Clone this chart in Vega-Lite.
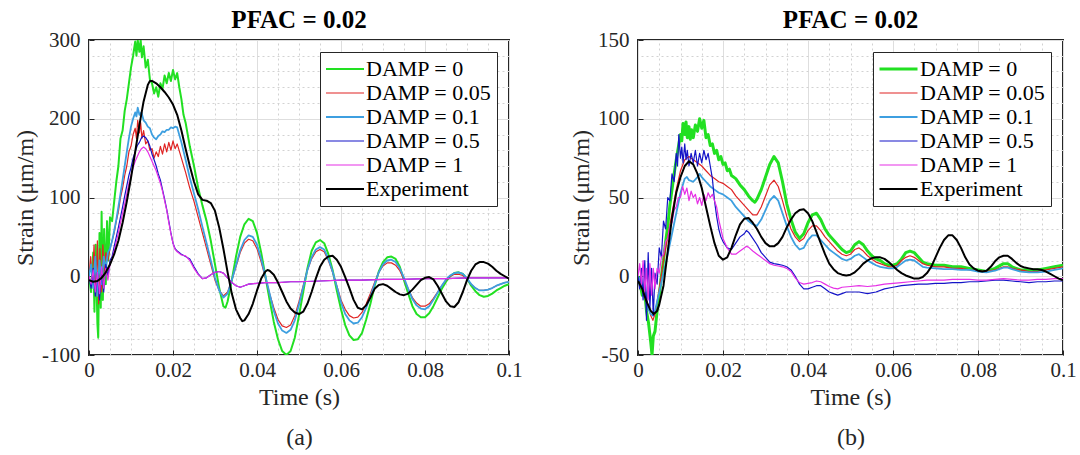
{
"$schema": "https://vega.github.io/schema/vega-lite/v6.json",
"background": "white",
"padding": {"left": 12, "top": 7, "right": 5, "bottom": 5},
"config": {
  "font": "Times New Roman, Liberation Serif, serif",
  "view": {"stroke": "#262626", "strokeWidth": 2},
  "axis": {"labelFont": "Times New Roman, Liberation Serif, serif", "labelFontSize": 21, "labelColor": "#262626", "titleFont": "Times New Roman, Liberation Serif, serif", "titleFontSize": 24, "titleFontWeight": "normal", "titleColor": "#262626", "gridColor": "#dedede", "gridWidth": 1, "domain": false, "tickColor": "#262626", "tickSize": -5, "labelPadding": 9, "labelFlush": false, "labelOverlap": false},
  "axisLeft": {"labelPadding": 14, "titlePadding": 4},
  "axisBottom": {"titlePadding": 5},
  "title": {"font": "Times New Roman, Liberation Serif, serif", "fontSize": 25, "fontWeight": "bold", "color": "#000000", "offset": -4, "anchor": "middle"},
  "legend": {"title": null, "orient": "top-right", "offset": 12, "symbolType": "stroke", "symbolSize": 1444, "symbolStrokeWidth": 2, "clipHeight": 24, "labelFont": "Times New Roman, Liberation Serif, serif", "labelFontSize": 22, "labelColor": "#000000", "strokeColor": "#262626", "fillColor": "#ffffff", "padding": 5, "rowPadding": 0, "labelOffset": 1}
},
"datasets": {
"a": [
{"s":"DAMP = 0","t":0,"v":0},{"s":"DAMP = 0","t":0.0005,"v":-20},{"s":"DAMP = 0","t":0.001,"v":30},{"s":"DAMP = 0","t":0.0013,"v":-45},{"s":"DAMP = 0","t":0.0016,"v":40},{"s":"DAMP = 0","t":0.002,"v":-60},{"s":"DAMP = 0","t":0.0022,"v":-78},{"s":"DAMP = 0","t":0.0025,"v":55},{"s":"DAMP = 0","t":0.0028,"v":-40},{"s":"DAMP = 0","t":0.003,"v":82},{"s":"DAMP = 0","t":0.0033,"v":-30},{"s":"DAMP = 0","t":0.0036,"v":60},{"s":"DAMP = 0","t":0.004,"v":-10},{"s":"DAMP = 0","t":0.0043,"v":70},{"s":"DAMP = 0","t":0.0046,"v":20},{"s":"DAMP = 0","t":0.005,"v":75},{"s":"DAMP = 0","t":0.0055,"v":70},{"s":"DAMP = 0","t":0.006,"v":95},{"s":"DAMP = 0","t":0.0065,"v":120},{"s":"DAMP = 0","t":0.007,"v":140},{"s":"DAMP = 0","t":0.0075,"v":175},{"s":"DAMP = 0","t":0.008,"v":185},{"s":"DAMP = 0","t":0.0085,"v":210},{"s":"DAMP = 0","t":0.009,"v":225},{"s":"DAMP = 0","t":0.0095,"v":245},{"s":"DAMP = 0","t":0.01,"v":265},{"s":"DAMP = 0","t":0.0105,"v":280},{"s":"DAMP = 0","t":0.011,"v":298},{"s":"DAMP = 0","t":0.0113,"v":280},{"s":"DAMP = 0","t":0.0116,"v":300},{"s":"DAMP = 0","t":0.012,"v":285},{"s":"DAMP = 0","t":0.0123,"v":300},{"s":"DAMP = 0","t":0.0126,"v":278},{"s":"DAMP = 0","t":0.013,"v":292},{"s":"DAMP = 0","t":0.0135,"v":265},{"s":"DAMP = 0","t":0.014,"v":275},{"s":"DAMP = 0","t":0.0145,"v":250},{"s":"DAMP = 0","t":0.015,"v":245},{"s":"DAMP = 0","t":0.0155,"v":232},{"s":"DAMP = 0","t":0.016,"v":240},{"s":"DAMP = 0","t":0.0165,"v":228},{"s":"DAMP = 0","t":0.017,"v":245},{"s":"DAMP = 0","t":0.0175,"v":238},{"s":"DAMP = 0","t":0.018,"v":255},{"s":"DAMP = 0","t":0.0185,"v":245},{"s":"DAMP = 0","t":0.019,"v":258},{"s":"DAMP = 0","t":0.0195,"v":248},{"s":"DAMP = 0","t":0.02,"v":262},{"s":"DAMP = 0","t":0.0205,"v":250},{"s":"DAMP = 0","t":0.021,"v":258},{"s":"DAMP = 0","t":0.0215,"v":240},{"s":"DAMP = 0","t":0.022,"v":225},{"s":"DAMP = 0","t":0.0225,"v":205},{"s":"DAMP = 0","t":0.023,"v":195},{"s":"DAMP = 0","t":0.024,"v":165},{"s":"DAMP = 0","t":0.025,"v":140},{"s":"DAMP = 0","t":0.026,"v":112},{"s":"DAMP = 0","t":0.027,"v":90},{"s":"DAMP = 0","t":0.028,"v":70},{"s":"DAMP = 0","t":0.029,"v":45},{"s":"DAMP = 0","t":0.03,"v":15},{"s":"DAMP = 0","t":0.031,"v":-15},{"s":"DAMP = 0","t":0.032,"v":-38},{"s":"DAMP = 0","t":0.0325,"v":-40},{"s":"DAMP = 0","t":0.033,"v":-32},{"s":"DAMP = 0","t":0.034,"v":-5},{"s":"DAMP = 0","t":0.035,"v":25},{"s":"DAMP = 0","t":0.036,"v":50},{"s":"DAMP = 0","t":0.037,"v":66},{"s":"DAMP = 0","t":0.038,"v":73},{"s":"DAMP = 0","t":0.039,"v":70},{"s":"DAMP = 0","t":0.04,"v":55},{"s":"DAMP = 0","t":0.041,"v":30},{"s":"DAMP = 0","t":0.042,"v":0},{"s":"DAMP = 0","t":0.043,"v":-30},{"s":"DAMP = 0","t":0.044,"v":-58},{"s":"DAMP = 0","t":0.045,"v":-80},{"s":"DAMP = 0","t":0.046,"v":-95},{"s":"DAMP = 0","t":0.047,"v":-100},{"s":"DAMP = 0","t":0.048,"v":-95},{"s":"DAMP = 0","t":0.049,"v":-78},{"s":"DAMP = 0","t":0.05,"v":-50},{"s":"DAMP = 0","t":0.051,"v":-20},{"s":"DAMP = 0","t":0.052,"v":10},{"s":"DAMP = 0","t":0.053,"v":32},{"s":"DAMP = 0","t":0.054,"v":43},{"s":"DAMP = 0","t":0.055,"v":46},{"s":"DAMP = 0","t":0.056,"v":42},{"s":"DAMP = 0","t":0.057,"v":28},{"s":"DAMP = 0","t":0.058,"v":8},{"s":"DAMP = 0","t":0.059,"v":-18},{"s":"DAMP = 0","t":0.06,"v":-42},{"s":"DAMP = 0","t":0.061,"v":-62},{"s":"DAMP = 0","t":0.062,"v":-75},{"s":"DAMP = 0","t":0.063,"v":-81},{"s":"DAMP = 0","t":0.064,"v":-80},{"s":"DAMP = 0","t":0.065,"v":-72},{"s":"DAMP = 0","t":0.066,"v":-55},{"s":"DAMP = 0","t":0.067,"v":-35},{"s":"DAMP = 0","t":0.068,"v":-12},{"s":"DAMP = 0","t":0.069,"v":6},{"s":"DAMP = 0","t":0.07,"v":18},{"s":"DAMP = 0","t":0.071,"v":24},{"s":"DAMP = 0","t":0.072,"v":25},{"s":"DAMP = 0","t":0.073,"v":22},{"s":"DAMP = 0","t":0.074,"v":12},{"s":"DAMP = 0","t":0.075,"v":-5},{"s":"DAMP = 0","t":0.076,"v":-22},{"s":"DAMP = 0","t":0.077,"v":-38},{"s":"DAMP = 0","t":0.078,"v":-48},{"s":"DAMP = 0","t":0.079,"v":-52},{"s":"DAMP = 0","t":0.08,"v":-52},{"s":"DAMP = 0","t":0.081,"v":-47},{"s":"DAMP = 0","t":0.082,"v":-38},{"s":"DAMP = 0","t":0.083,"v":-27},{"s":"DAMP = 0","t":0.084,"v":-16},{"s":"DAMP = 0","t":0.085,"v":-7},{"s":"DAMP = 0","t":0.086,"v":0},{"s":"DAMP = 0","t":0.087,"v":4},{"s":"DAMP = 0","t":0.088,"v":5},{"s":"DAMP = 0","t":0.089,"v":3},{"s":"DAMP = 0","t":0.09,"v":-3},{"s":"DAMP = 0","t":0.091,"v":-12},{"s":"DAMP = 0","t":0.092,"v":-19},{"s":"DAMP = 0","t":0.093,"v":-24},{"s":"DAMP = 0","t":0.094,"v":-26},{"s":"DAMP = 0","t":0.095,"v":-25},{"s":"DAMP = 0","t":0.096,"v":-22},{"s":"DAMP = 0","t":0.097,"v":-18},{"s":"DAMP = 0","t":0.098,"v":-15},{"s":"DAMP = 0","t":0.099,"v":-12},{"s":"DAMP = 0","t":0.1,"v":-10},
{"s":"DAMP = 0.05","t":0,"v":0},{"s":"DAMP = 0.05","t":0.0004,"v":25},{"s":"DAMP = 0.05","t":0.0008,"v":-10},{"s":"DAMP = 0.05","t":0.0012,"v":40},{"s":"DAMP = 0.05","t":0.0016,"v":-25},{"s":"DAMP = 0.05","t":0.002,"v":45},{"s":"DAMP = 0.05","t":0.0023,"v":-35},{"s":"DAMP = 0.05","t":0.0026,"v":35},{"s":"DAMP = 0.05","t":0.003,"v":-20},{"s":"DAMP = 0.05","t":0.0033,"v":40},{"s":"DAMP = 0.05","t":0.0036,"v":5},{"s":"DAMP = 0.05","t":0.004,"v":30},{"s":"DAMP = 0.05","t":0.0045,"v":20},{"s":"DAMP = 0.05","t":0.005,"v":35},{"s":"DAMP = 0.05","t":0.0055,"v":45},{"s":"DAMP = 0.05","t":0.006,"v":55},{"s":"DAMP = 0.05","t":0.0065,"v":70},{"s":"DAMP = 0.05","t":0.007,"v":82},{"s":"DAMP = 0.05","t":0.0075,"v":100},{"s":"DAMP = 0.05","t":0.008,"v":112},{"s":"DAMP = 0.05","t":0.0085,"v":128},{"s":"DAMP = 0.05","t":0.009,"v":140},{"s":"DAMP = 0.05","t":0.0095,"v":158},{"s":"DAMP = 0.05","t":0.01,"v":165},{"s":"DAMP = 0.05","t":0.0105,"v":180},{"s":"DAMP = 0.05","t":0.011,"v":188},{"s":"DAMP = 0.05","t":0.0113,"v":175},{"s":"DAMP = 0.05","t":0.0116,"v":198},{"s":"DAMP = 0.05","t":0.012,"v":182},{"s":"DAMP = 0.05","t":0.0123,"v":195},{"s":"DAMP = 0.05","t":0.0126,"v":175},{"s":"DAMP = 0.05","t":0.013,"v":185},{"s":"DAMP = 0.05","t":0.0135,"v":168},{"s":"DAMP = 0.05","t":0.014,"v":172},{"s":"DAMP = 0.05","t":0.0145,"v":160},{"s":"DAMP = 0.05","t":0.015,"v":162},{"s":"DAMP = 0.05","t":0.0155,"v":150},{"s":"DAMP = 0.05","t":0.016,"v":158},{"s":"DAMP = 0.05","t":0.0165,"v":152},{"s":"DAMP = 0.05","t":0.017,"v":165},{"s":"DAMP = 0.05","t":0.0175,"v":155},{"s":"DAMP = 0.05","t":0.018,"v":168},{"s":"DAMP = 0.05","t":0.0185,"v":158},{"s":"DAMP = 0.05","t":0.019,"v":170},{"s":"DAMP = 0.05","t":0.0195,"v":160},{"s":"DAMP = 0.05","t":0.02,"v":172},{"s":"DAMP = 0.05","t":0.0205,"v":162},{"s":"DAMP = 0.05","t":0.021,"v":168},{"s":"DAMP = 0.05","t":0.022,"v":150},{"s":"DAMP = 0.05","t":0.023,"v":132},{"s":"DAMP = 0.05","t":0.024,"v":112},{"s":"DAMP = 0.05","t":0.025,"v":95},{"s":"DAMP = 0.05","t":0.026,"v":75},{"s":"DAMP = 0.05","t":0.027,"v":55},{"s":"DAMP = 0.05","t":0.028,"v":35},{"s":"DAMP = 0.05","t":0.029,"v":15},{"s":"DAMP = 0.05","t":0.03,"v":-5},{"s":"DAMP = 0.05","t":0.031,"v":-18},{"s":"DAMP = 0.05","t":0.032,"v":-25},{"s":"DAMP = 0.05","t":0.033,"v":-20},{"s":"DAMP = 0.05","t":0.034,"v":-5},{"s":"DAMP = 0.05","t":0.035,"v":12},{"s":"DAMP = 0.05","t":0.036,"v":30},{"s":"DAMP = 0.05","t":0.037,"v":42},{"s":"DAMP = 0.05","t":0.038,"v":47},{"s":"DAMP = 0.05","t":0.039,"v":45},{"s":"DAMP = 0.05","t":0.04,"v":35},{"s":"DAMP = 0.05","t":0.041,"v":18},{"s":"DAMP = 0.05","t":0.042,"v":-2},{"s":"DAMP = 0.05","t":0.043,"v":-22},{"s":"DAMP = 0.05","t":0.044,"v":-40},{"s":"DAMP = 0.05","t":0.045,"v":-55},{"s":"DAMP = 0.05","t":0.046,"v":-63},{"s":"DAMP = 0.05","t":0.047,"v":-65},{"s":"DAMP = 0.05","t":0.048,"v":-62},{"s":"DAMP = 0.05","t":0.049,"v":-50},{"s":"DAMP = 0.05","t":0.05,"v":-32},{"s":"DAMP = 0.05","t":0.051,"v":-12},{"s":"DAMP = 0.05","t":0.052,"v":8},{"s":"DAMP = 0.05","t":0.053,"v":22},{"s":"DAMP = 0.05","t":0.054,"v":31},{"s":"DAMP = 0.05","t":0.055,"v":34},{"s":"DAMP = 0.05","t":0.056,"v":31},{"s":"DAMP = 0.05","t":0.057,"v":20},{"s":"DAMP = 0.05","t":0.058,"v":5},{"s":"DAMP = 0.05","t":0.059,"v":-12},{"s":"DAMP = 0.05","t":0.06,"v":-30},{"s":"DAMP = 0.05","t":0.061,"v":-42},{"s":"DAMP = 0.05","t":0.062,"v":-50},{"s":"DAMP = 0.05","t":0.063,"v":-53},{"s":"DAMP = 0.05","t":0.064,"v":-52},{"s":"DAMP = 0.05","t":0.065,"v":-46},{"s":"DAMP = 0.05","t":0.066,"v":-35},{"s":"DAMP = 0.05","t":0.067,"v":-22},{"s":"DAMP = 0.05","t":0.068,"v":-8},{"s":"DAMP = 0.05","t":0.069,"v":5},{"s":"DAMP = 0.05","t":0.07,"v":13},{"s":"DAMP = 0.05","t":0.071,"v":17},{"s":"DAMP = 0.05","t":0.072,"v":17},{"s":"DAMP = 0.05","t":0.073,"v":14},{"s":"DAMP = 0.05","t":0.074,"v":7},{"s":"DAMP = 0.05","t":0.075,"v":-4},{"s":"DAMP = 0.05","t":0.076,"v":-16},{"s":"DAMP = 0.05","t":0.077,"v":-27},{"s":"DAMP = 0.05","t":0.078,"v":-34},{"s":"DAMP = 0.05","t":0.079,"v":-38},{"s":"DAMP = 0.05","t":0.08,"v":-38},{"s":"DAMP = 0.05","t":0.081,"v":-35},{"s":"DAMP = 0.05","t":0.082,"v":-28},{"s":"DAMP = 0.05","t":0.083,"v":-20},{"s":"DAMP = 0.05","t":0.084,"v":-12},{"s":"DAMP = 0.05","t":0.085,"v":-5},{"s":"DAMP = 0.05","t":0.086,"v":0},{"s":"DAMP = 0.05","t":0.087,"v":2.5},{"s":"DAMP = 0.05","t":0.088,"v":2.5},{"s":"DAMP = 0.05","t":0.089,"v":1},{"s":"DAMP = 0.05","t":0.09,"v":-4},{"s":"DAMP = 0.05","t":0.091,"v":-10},{"s":"DAMP = 0.05","t":0.092,"v":-15},{"s":"DAMP = 0.05","t":0.093,"v":-18},{"s":"DAMP = 0.05","t":0.094,"v":-18},{"s":"DAMP = 0.05","t":0.095,"v":-17},{"s":"DAMP = 0.05","t":0.096,"v":-15},{"s":"DAMP = 0.05","t":0.097,"v":-12},{"s":"DAMP = 0.05","t":0.098,"v":-10},{"s":"DAMP = 0.05","t":0.099,"v":-8},{"s":"DAMP = 0.05","t":0.1,"v":-7},
{"s":"DAMP = 0.1","t":0,"v":0},{"s":"DAMP = 0.1","t":0.0005,"v":15},{"s":"DAMP = 0.1","t":0.001,"v":-15},{"s":"DAMP = 0.1","t":0.0015,"v":25},{"s":"DAMP = 0.1","t":0.002,"v":-25},{"s":"DAMP = 0.1","t":0.0025,"v":20},{"s":"DAMP = 0.1","t":0.003,"v":-10},{"s":"DAMP = 0.1","t":0.0035,"v":25},{"s":"DAMP = 0.1","t":0.004,"v":10},{"s":"DAMP = 0.1","t":0.0045,"v":30},{"s":"DAMP = 0.1","t":0.005,"v":35},{"s":"DAMP = 0.1","t":0.0055,"v":45},{"s":"DAMP = 0.1","t":0.006,"v":58},{"s":"DAMP = 0.1","t":0.0065,"v":72},{"s":"DAMP = 0.1","t":0.007,"v":88},{"s":"DAMP = 0.1","t":0.0075,"v":105},{"s":"DAMP = 0.1","t":0.008,"v":122},{"s":"DAMP = 0.1","t":0.0085,"v":140},{"s":"DAMP = 0.1","t":0.009,"v":158},{"s":"DAMP = 0.1","t":0.0095,"v":175},{"s":"DAMP = 0.1","t":0.01,"v":190},{"s":"DAMP = 0.1","t":0.0105,"v":200},{"s":"DAMP = 0.1","t":0.011,"v":208},{"s":"DAMP = 0.1","t":0.0113,"v":203},{"s":"DAMP = 0.1","t":0.0116,"v":214},{"s":"DAMP = 0.1","t":0.012,"v":205},{"s":"DAMP = 0.1","t":0.0125,"v":208},{"s":"DAMP = 0.1","t":0.013,"v":198},{"s":"DAMP = 0.1","t":0.0135,"v":195},{"s":"DAMP = 0.1","t":0.014,"v":190},{"s":"DAMP = 0.1","t":0.0145,"v":188},{"s":"DAMP = 0.1","t":0.015,"v":180},{"s":"DAMP = 0.1","t":0.0155,"v":176},{"s":"DAMP = 0.1","t":0.016,"v":174},{"s":"DAMP = 0.1","t":0.0165,"v":178},{"s":"DAMP = 0.1","t":0.017,"v":180},{"s":"DAMP = 0.1","t":0.0175,"v":184},{"s":"DAMP = 0.1","t":0.018,"v":183},{"s":"DAMP = 0.1","t":0.0185,"v":186},{"s":"DAMP = 0.1","t":0.019,"v":186},{"s":"DAMP = 0.1","t":0.0195,"v":189},{"s":"DAMP = 0.1","t":0.02,"v":188},{"s":"DAMP = 0.1","t":0.0205,"v":190},{"s":"DAMP = 0.1","t":0.021,"v":189},{"s":"DAMP = 0.1","t":0.022,"v":170},{"s":"DAMP = 0.1","t":0.023,"v":148},{"s":"DAMP = 0.1","t":0.024,"v":125},{"s":"DAMP = 0.1","t":0.025,"v":105},{"s":"DAMP = 0.1","t":0.026,"v":85},{"s":"DAMP = 0.1","t":0.027,"v":63},{"s":"DAMP = 0.1","t":0.028,"v":42},{"s":"DAMP = 0.1","t":0.029,"v":20},{"s":"DAMP = 0.1","t":0.03,"v":-2},{"s":"DAMP = 0.1","t":0.031,"v":-18},{"s":"DAMP = 0.1","t":0.032,"v":-27},{"s":"DAMP = 0.1","t":0.033,"v":-22},{"s":"DAMP = 0.1","t":0.034,"v":-5},{"s":"DAMP = 0.1","t":0.035,"v":14},{"s":"DAMP = 0.1","t":0.036,"v":33},{"s":"DAMP = 0.1","t":0.037,"v":46},{"s":"DAMP = 0.1","t":0.038,"v":52},{"s":"DAMP = 0.1","t":0.039,"v":50},{"s":"DAMP = 0.1","t":0.04,"v":40},{"s":"DAMP = 0.1","t":0.041,"v":22},{"s":"DAMP = 0.1","t":0.042,"v":0},{"s":"DAMP = 0.1","t":0.043,"v":-22},{"s":"DAMP = 0.1","t":0.044,"v":-44},{"s":"DAMP = 0.1","t":0.045,"v":-60},{"s":"DAMP = 0.1","t":0.046,"v":-69},{"s":"DAMP = 0.1","t":0.047,"v":-72},{"s":"DAMP = 0.1","t":0.048,"v":-68},{"s":"DAMP = 0.1","t":0.049,"v":-56},{"s":"DAMP = 0.1","t":0.05,"v":-36},{"s":"DAMP = 0.1","t":0.051,"v":-14},{"s":"DAMP = 0.1","t":0.052,"v":8},{"s":"DAMP = 0.1","t":0.053,"v":24},{"s":"DAMP = 0.1","t":0.054,"v":34},{"s":"DAMP = 0.1","t":0.055,"v":37},{"s":"DAMP = 0.1","t":0.056,"v":34},{"s":"DAMP = 0.1","t":0.057,"v":22},{"s":"DAMP = 0.1","t":0.058,"v":6},{"s":"DAMP = 0.1","t":0.059,"v":-13},{"s":"DAMP = 0.1","t":0.06,"v":-33},{"s":"DAMP = 0.1","t":0.061,"v":-48},{"s":"DAMP = 0.1","t":0.062,"v":-56},{"s":"DAMP = 0.1","t":0.063,"v":-60},{"s":"DAMP = 0.1","t":0.064,"v":-59},{"s":"DAMP = 0.1","t":0.065,"v":-52},{"s":"DAMP = 0.1","t":0.066,"v":-40},{"s":"DAMP = 0.1","t":0.067,"v":-26},{"s":"DAMP = 0.1","t":0.068,"v":-10},{"s":"DAMP = 0.1","t":0.069,"v":5},{"s":"DAMP = 0.1","t":0.07,"v":15},{"s":"DAMP = 0.1","t":0.071,"v":20},{"s":"DAMP = 0.1","t":0.072,"v":21},{"s":"DAMP = 0.1","t":0.073,"v":18},{"s":"DAMP = 0.1","t":0.074,"v":10},{"s":"DAMP = 0.1","t":0.075,"v":-2},{"s":"DAMP = 0.1","t":0.076,"v":-16},{"s":"DAMP = 0.1","t":0.077,"v":-29},{"s":"DAMP = 0.1","t":0.078,"v":-37},{"s":"DAMP = 0.1","t":0.079,"v":-41},{"s":"DAMP = 0.1","t":0.08,"v":-42},{"s":"DAMP = 0.1","t":0.081,"v":-38},{"s":"DAMP = 0.1","t":0.082,"v":-30},{"s":"DAMP = 0.1","t":0.083,"v":-21},{"s":"DAMP = 0.1","t":0.084,"v":-12},{"s":"DAMP = 0.1","t":0.085,"v":-4},{"s":"DAMP = 0.1","t":0.086,"v":1},{"s":"DAMP = 0.1","t":0.087,"v":4},{"s":"DAMP = 0.1","t":0.088,"v":5},{"s":"DAMP = 0.1","t":0.089,"v":3},{"s":"DAMP = 0.1","t":0.09,"v":-3},{"s":"DAMP = 0.1","t":0.091,"v":-10},{"s":"DAMP = 0.1","t":0.092,"v":-15},{"s":"DAMP = 0.1","t":0.093,"v":-18},{"s":"DAMP = 0.1","t":0.094,"v":-18},{"s":"DAMP = 0.1","t":0.095,"v":-17},{"s":"DAMP = 0.1","t":0.096,"v":-15},{"s":"DAMP = 0.1","t":0.097,"v":-12},{"s":"DAMP = 0.1","t":0.098,"v":-10},{"s":"DAMP = 0.1","t":0.099,"v":-8},{"s":"DAMP = 0.1","t":0.1,"v":-7},
{"s":"DAMP = 0.5","t":0,"v":0},{"s":"DAMP = 0.5","t":0.0005,"v":-15},{"s":"DAMP = 0.5","t":0.001,"v":10},{"s":"DAMP = 0.5","t":0.0015,"v":-25},{"s":"DAMP = 0.5","t":0.002,"v":5},{"s":"DAMP = 0.5","t":0.0025,"v":-30},{"s":"DAMP = 0.5","t":0.003,"v":10},{"s":"DAMP = 0.5","t":0.0035,"v":-20},{"s":"DAMP = 0.5","t":0.004,"v":15},{"s":"DAMP = 0.5","t":0.0045,"v":0},{"s":"DAMP = 0.5","t":0.005,"v":20},{"s":"DAMP = 0.5","t":0.0055,"v":25},{"s":"DAMP = 0.5","t":0.006,"v":38},{"s":"DAMP = 0.5","t":0.0065,"v":50},{"s":"DAMP = 0.5","t":0.007,"v":62},{"s":"DAMP = 0.5","t":0.0075,"v":75},{"s":"DAMP = 0.5","t":0.008,"v":88},{"s":"DAMP = 0.5","t":0.0085,"v":102},{"s":"DAMP = 0.5","t":0.009,"v":115},{"s":"DAMP = 0.5","t":0.0095,"v":128},{"s":"DAMP = 0.5","t":0.01,"v":138},{"s":"DAMP = 0.5","t":0.0105,"v":150},{"s":"DAMP = 0.5","t":0.011,"v":158},{"s":"DAMP = 0.5","t":0.0115,"v":166},{"s":"DAMP = 0.5","t":0.012,"v":170},{"s":"DAMP = 0.5","t":0.0125,"v":176},{"s":"DAMP = 0.5","t":0.013,"v":178},{"s":"DAMP = 0.5","t":0.0135,"v":176},{"s":"DAMP = 0.5","t":0.014,"v":172},{"s":"DAMP = 0.5","t":0.0145,"v":165},{"s":"DAMP = 0.5","t":0.015,"v":155},{"s":"DAMP = 0.5","t":0.0155,"v":148},{"s":"DAMP = 0.5","t":0.016,"v":140},{"s":"DAMP = 0.5","t":0.0165,"v":130},{"s":"DAMP = 0.5","t":0.017,"v":122},{"s":"DAMP = 0.5","t":0.0175,"v":110},{"s":"DAMP = 0.5","t":0.018,"v":98},{"s":"DAMP = 0.5","t":0.0185,"v":85},{"s":"DAMP = 0.5","t":0.019,"v":70},{"s":"DAMP = 0.5","t":0.0195,"v":55},{"s":"DAMP = 0.5","t":0.02,"v":42},{"s":"DAMP = 0.5","t":0.0205,"v":35},{"s":"DAMP = 0.5","t":0.021,"v":32},{"s":"DAMP = 0.5","t":0.022,"v":28},{"s":"DAMP = 0.5","t":0.023,"v":25},{"s":"DAMP = 0.5","t":0.024,"v":22},{"s":"DAMP = 0.5","t":0.025,"v":12},{"s":"DAMP = 0.5","t":0.026,"v":3},{"s":"DAMP = 0.5","t":0.027,"v":-3},{"s":"DAMP = 0.5","t":0.028,"v":-2},{"s":"DAMP = 0.5","t":0.029,"v":2},{"s":"DAMP = 0.5","t":0.03,"v":5},{"s":"DAMP = 0.5","t":0.031,"v":6},{"s":"DAMP = 0.5","t":0.032,"v":4},{"s":"DAMP = 0.5","t":0.033,"v":-2},{"s":"DAMP = 0.5","t":0.034,"v":-8},{"s":"DAMP = 0.5","t":0.035,"v":-12},{"s":"DAMP = 0.5","t":0.036,"v":-14},{"s":"DAMP = 0.5","t":0.037,"v":-12},{"s":"DAMP = 0.5","t":0.038,"v":-10},{"s":"DAMP = 0.5","t":0.04,"v":-9},{"s":"DAMP = 0.5","t":0.042,"v":-8},{"s":"DAMP = 0.5","t":0.045,"v":-8},{"s":"DAMP = 0.5","t":0.048,"v":-7},{"s":"DAMP = 0.5","t":0.05,"v":-7},{"s":"DAMP = 0.5","t":0.055,"v":-6},{"s":"DAMP = 0.5","t":0.06,"v":-5},{"s":"DAMP = 0.5","t":0.065,"v":-5},{"s":"DAMP = 0.5","t":0.07,"v":-4},{"s":"DAMP = 0.5","t":0.075,"v":-4},{"s":"DAMP = 0.5","t":0.08,"v":-3},{"s":"DAMP = 0.5","t":0.085,"v":-3},{"s":"DAMP = 0.5","t":0.09,"v":-2},{"s":"DAMP = 0.5","t":0.095,"v":-2},{"s":"DAMP = 0.5","t":0.1,"v":-2},
{"s":"DAMP = 1","t":0,"v":0},{"s":"DAMP = 1","t":0.0005,"v":-10},{"s":"DAMP = 1","t":0.001,"v":8},{"s":"DAMP = 1","t":0.0015,"v":-20},{"s":"DAMP = 1","t":0.002,"v":5},{"s":"DAMP = 1","t":0.0025,"v":-22},{"s":"DAMP = 1","t":0.003,"v":12},{"s":"DAMP = 1","t":0.0035,"v":-15},{"s":"DAMP = 1","t":0.004,"v":10},{"s":"DAMP = 1","t":0.0045,"v":-5},{"s":"DAMP = 1","t":0.005,"v":15},{"s":"DAMP = 1","t":0.0055,"v":22},{"s":"DAMP = 1","t":0.006,"v":32},{"s":"DAMP = 1","t":0.0065,"v":44},{"s":"DAMP = 1","t":0.007,"v":55},{"s":"DAMP = 1","t":0.0075,"v":68},{"s":"DAMP = 1","t":0.008,"v":80},{"s":"DAMP = 1","t":0.0085,"v":92},{"s":"DAMP = 1","t":0.009,"v":105},{"s":"DAMP = 1","t":0.0095,"v":118},{"s":"DAMP = 1","t":0.01,"v":128},{"s":"DAMP = 1","t":0.0105,"v":138},{"s":"DAMP = 1","t":0.011,"v":146},{"s":"DAMP = 1","t":0.0115,"v":152},{"s":"DAMP = 1","t":0.012,"v":158},{"s":"DAMP = 1","t":0.0125,"v":162},{"s":"DAMP = 1","t":0.013,"v":164},{"s":"DAMP = 1","t":0.0135,"v":162},{"s":"DAMP = 1","t":0.014,"v":158},{"s":"DAMP = 1","t":0.0145,"v":152},{"s":"DAMP = 1","t":0.015,"v":146},{"s":"DAMP = 1","t":0.0155,"v":140},{"s":"DAMP = 1","t":0.016,"v":134},{"s":"DAMP = 1","t":0.0165,"v":126},{"s":"DAMP = 1","t":0.017,"v":118},{"s":"DAMP = 1","t":0.0175,"v":108},{"s":"DAMP = 1","t":0.018,"v":96},{"s":"DAMP = 1","t":0.0185,"v":84},{"s":"DAMP = 1","t":0.019,"v":68},{"s":"DAMP = 1","t":0.0195,"v":54},{"s":"DAMP = 1","t":0.02,"v":42},{"s":"DAMP = 1","t":0.0205,"v":34},{"s":"DAMP = 1","t":0.021,"v":31},{"s":"DAMP = 1","t":0.022,"v":27},{"s":"DAMP = 1","t":0.023,"v":26},{"s":"DAMP = 1","t":0.024,"v":20},{"s":"DAMP = 1","t":0.025,"v":10},{"s":"DAMP = 1","t":0.026,"v":2},{"s":"DAMP = 1","t":0.027,"v":-3},{"s":"DAMP = 1","t":0.028,"v":-2},{"s":"DAMP = 1","t":0.029,"v":2},{"s":"DAMP = 1","t":0.03,"v":5},{"s":"DAMP = 1","t":0.031,"v":6},{"s":"DAMP = 1","t":0.032,"v":4},{"s":"DAMP = 1","t":0.033,"v":-2},{"s":"DAMP = 1","t":0.034,"v":-8},{"s":"DAMP = 1","t":0.035,"v":-12},{"s":"DAMP = 1","t":0.036,"v":-14},{"s":"DAMP = 1","t":0.037,"v":-12},{"s":"DAMP = 1","t":0.038,"v":-10},{"s":"DAMP = 1","t":0.04,"v":-9},{"s":"DAMP = 1","t":0.042,"v":-8},{"s":"DAMP = 1","t":0.045,"v":-8},{"s":"DAMP = 1","t":0.048,"v":-7},{"s":"DAMP = 1","t":0.05,"v":-7},{"s":"DAMP = 1","t":0.055,"v":-6},{"s":"DAMP = 1","t":0.06,"v":-5},{"s":"DAMP = 1","t":0.065,"v":-5},{"s":"DAMP = 1","t":0.07,"v":-4},{"s":"DAMP = 1","t":0.075,"v":-4},{"s":"DAMP = 1","t":0.08,"v":-3},{"s":"DAMP = 1","t":0.085,"v":-3},{"s":"DAMP = 1","t":0.09,"v":-2},{"s":"DAMP = 1","t":0.095,"v":-2},{"s":"DAMP = 1","t":0.1,"v":-2},
{"s":"Experiment","t":0,"v":-5},{"s":"Experiment","t":0.001,"v":-7},{"s":"Experiment","t":0.002,"v":-6},{"s":"Experiment","t":0.003,"v":-2},{"s":"Experiment","t":0.004,"v":5},{"s":"Experiment","t":0.005,"v":15},{"s":"Experiment","t":0.006,"v":28},{"s":"Experiment","t":0.007,"v":45},{"s":"Experiment","t":0.008,"v":68},{"s":"Experiment","t":0.009,"v":95},{"s":"Experiment","t":0.01,"v":125},{"s":"Experiment","t":0.011,"v":158},{"s":"Experiment","t":0.012,"v":192},{"s":"Experiment","t":0.013,"v":222},{"s":"Experiment","t":0.014,"v":243},{"s":"Experiment","t":0.0145,"v":248},{"s":"Experiment","t":0.015,"v":248},{"s":"Experiment","t":0.016,"v":245},{"s":"Experiment","t":0.017,"v":240},{"s":"Experiment","t":0.018,"v":234},{"s":"Experiment","t":0.019,"v":227},{"s":"Experiment","t":0.02,"v":218},{"s":"Experiment","t":0.021,"v":205},{"s":"Experiment","t":0.022,"v":185},{"s":"Experiment","t":0.023,"v":162},{"s":"Experiment","t":0.024,"v":140},{"s":"Experiment","t":0.025,"v":120},{"s":"Experiment","t":0.026,"v":104},{"s":"Experiment","t":0.027,"v":97},{"s":"Experiment","t":0.028,"v":96},{"s":"Experiment","t":0.029,"v":93},{"s":"Experiment","t":0.03,"v":83},{"s":"Experiment","t":0.031,"v":62},{"s":"Experiment","t":0.032,"v":35},{"s":"Experiment","t":0.033,"v":5},{"s":"Experiment","t":0.034,"v":-22},{"s":"Experiment","t":0.035,"v":-42},{"s":"Experiment","t":0.036,"v":-53},{"s":"Experiment","t":0.0365,"v":-57},{"s":"Experiment","t":0.037,"v":-56},{"s":"Experiment","t":0.038,"v":-48},{"s":"Experiment","t":0.039,"v":-35},{"s":"Experiment","t":0.04,"v":-18},{"s":"Experiment","t":0.041,"v":-3},{"s":"Experiment","t":0.042,"v":6},{"s":"Experiment","t":0.0425,"v":8},{"s":"Experiment","t":0.043,"v":7},{"s":"Experiment","t":0.044,"v":2},{"s":"Experiment","t":0.045,"v":-8},{"s":"Experiment","t":0.046,"v":-20},{"s":"Experiment","t":0.047,"v":-32},{"s":"Experiment","t":0.048,"v":-41},{"s":"Experiment","t":0.049,"v":-46},{"s":"Experiment","t":0.05,"v":-48},{"s":"Experiment","t":0.051,"v":-45},{"s":"Experiment","t":0.052,"v":-35},{"s":"Experiment","t":0.053,"v":-20},{"s":"Experiment","t":0.054,"v":-3},{"s":"Experiment","t":0.055,"v":12},{"s":"Experiment","t":0.056,"v":21},{"s":"Experiment","t":0.057,"v":25},{"s":"Experiment","t":0.058,"v":26},{"s":"Experiment","t":0.059,"v":21},{"s":"Experiment","t":0.06,"v":12},{"s":"Experiment","t":0.061,"v":-1},{"s":"Experiment","t":0.062,"v":-15},{"s":"Experiment","t":0.063,"v":-30},{"s":"Experiment","t":0.064,"v":-40},{"s":"Experiment","t":0.065,"v":-42},{"s":"Experiment","t":0.066,"v":-37},{"s":"Experiment","t":0.067,"v":-27},{"s":"Experiment","t":0.068,"v":-16},{"s":"Experiment","t":0.069,"v":-11},{"s":"Experiment","t":0.07,"v":-10},{"s":"Experiment","t":0.071,"v":-12},{"s":"Experiment","t":0.072,"v":-16},{"s":"Experiment","t":0.073,"v":-20},{"s":"Experiment","t":0.074,"v":-23},{"s":"Experiment","t":0.075,"v":-24},{"s":"Experiment","t":0.076,"v":-22},{"s":"Experiment","t":0.077,"v":-17},{"s":"Experiment","t":0.078,"v":-11},{"s":"Experiment","t":0.079,"v":-5},{"s":"Experiment","t":0.08,"v":-2},{"s":"Experiment","t":0.081,"v":-1},{"s":"Experiment","t":0.082,"v":-4},{"s":"Experiment","t":0.083,"v":-12},{"s":"Experiment","t":0.084,"v":-22},{"s":"Experiment","t":0.085,"v":-32},{"s":"Experiment","t":0.086,"v":-38},{"s":"Experiment","t":0.087,"v":-39},{"s":"Experiment","t":0.088,"v":-33},{"s":"Experiment","t":0.089,"v":-20},{"s":"Experiment","t":0.09,"v":-5},{"s":"Experiment","t":0.091,"v":7},{"s":"Experiment","t":0.092,"v":15},{"s":"Experiment","t":0.093,"v":18},{"s":"Experiment","t":0.094,"v":18},{"s":"Experiment","t":0.095,"v":16},{"s":"Experiment","t":0.096,"v":12},{"s":"Experiment","t":0.097,"v":7},{"s":"Experiment","t":0.098,"v":3},{"s":"Experiment","t":0.099,"v":0},{"s":"Experiment","t":0.1,"v":-3}
],
"b": [
{"s":"DAMP = 0","t":0,"v":0},{"s":"DAMP = 0","t":0.0005,"v":-5},{"s":"DAMP = 0","t":0.001,"v":-12},{"s":"DAMP = 0","t":0.0015,"v":-8},{"s":"DAMP = 0","t":0.002,"v":-22},{"s":"DAMP = 0","t":0.0025,"v":-30},{"s":"DAMP = 0","t":0.003,"v":-42},{"s":"DAMP = 0","t":0.0033,"v":-50},{"s":"DAMP = 0","t":0.0036,"v":-38},{"s":"DAMP = 0","t":0.004,"v":-35},{"s":"DAMP = 0","t":0.0045,"v":-22},{"s":"DAMP = 0","t":0.005,"v":-12},{"s":"DAMP = 0","t":0.0055,"v":0},{"s":"DAMP = 0","t":0.006,"v":10},{"s":"DAMP = 0","t":0.0065,"v":22},{"s":"DAMP = 0","t":0.007,"v":32},{"s":"DAMP = 0","t":0.0075,"v":45},{"s":"DAMP = 0","t":0.008,"v":55},{"s":"DAMP = 0","t":0.0085,"v":65},{"s":"DAMP = 0","t":0.009,"v":74},{"s":"DAMP = 0","t":0.0095,"v":82},{"s":"DAMP = 0","t":0.01,"v":90},{"s":"DAMP = 0","t":0.0103,"v":86},{"s":"DAMP = 0","t":0.0106,"v":97},{"s":"DAMP = 0","t":0.011,"v":90},{"s":"DAMP = 0","t":0.0113,"v":98},{"s":"DAMP = 0","t":0.0116,"v":88},{"s":"DAMP = 0","t":0.012,"v":95},{"s":"DAMP = 0","t":0.0123,"v":87},{"s":"DAMP = 0","t":0.0126,"v":93},{"s":"DAMP = 0","t":0.013,"v":88},{"s":"DAMP = 0","t":0.0135,"v":96},{"s":"DAMP = 0","t":0.014,"v":92},{"s":"DAMP = 0","t":0.0145,"v":100},{"s":"DAMP = 0","t":0.015,"v":94},{"s":"DAMP = 0","t":0.0155,"v":99},{"s":"DAMP = 0","t":0.016,"v":88},{"s":"DAMP = 0","t":0.0165,"v":90},{"s":"DAMP = 0","t":0.017,"v":83},{"s":"DAMP = 0","t":0.0175,"v":84},{"s":"DAMP = 0","t":0.018,"v":78},{"s":"DAMP = 0","t":0.0185,"v":80},{"s":"DAMP = 0","t":0.019,"v":74},{"s":"DAMP = 0","t":0.0195,"v":76},{"s":"DAMP = 0","t":0.02,"v":71},{"s":"DAMP = 0","t":0.0205,"v":72},{"s":"DAMP = 0","t":0.021,"v":67},{"s":"DAMP = 0","t":0.0215,"v":68},{"s":"DAMP = 0","t":0.022,"v":64},{"s":"DAMP = 0","t":0.023,"v":62},{"s":"DAMP = 0","t":0.024,"v":58},{"s":"DAMP = 0","t":0.025,"v":55},{"s":"DAMP = 0","t":0.026,"v":51},{"s":"DAMP = 0","t":0.027,"v":48},{"s":"DAMP = 0","t":0.0275,"v":47},{"s":"DAMP = 0","t":0.028,"v":49},{"s":"DAMP = 0","t":0.029,"v":55},{"s":"DAMP = 0","t":0.03,"v":63},{"s":"DAMP = 0","t":0.031,"v":71},{"s":"DAMP = 0","t":0.032,"v":76},{"s":"DAMP = 0","t":0.033,"v":72},{"s":"DAMP = 0","t":0.034,"v":60},{"s":"DAMP = 0","t":0.035,"v":46},{"s":"DAMP = 0","t":0.036,"v":36},{"s":"DAMP = 0","t":0.037,"v":28},{"s":"DAMP = 0","t":0.038,"v":24},{"s":"DAMP = 0","t":0.039,"v":27},{"s":"DAMP = 0","t":0.04,"v":34},{"s":"DAMP = 0","t":0.041,"v":39},{"s":"DAMP = 0","t":0.042,"v":40},{"s":"DAMP = 0","t":0.043,"v":36},{"s":"DAMP = 0","t":0.044,"v":30},{"s":"DAMP = 0","t":0.045,"v":26},{"s":"DAMP = 0","t":0.046,"v":23},{"s":"DAMP = 0","t":0.047,"v":20},{"s":"DAMP = 0","t":0.048,"v":17},{"s":"DAMP = 0","t":0.049,"v":15},{"s":"DAMP = 0","t":0.05,"v":16},{"s":"DAMP = 0","t":0.051,"v":20},{"s":"DAMP = 0","t":0.052,"v":22},{"s":"DAMP = 0","t":0.053,"v":20},{"s":"DAMP = 0","t":0.054,"v":16},{"s":"DAMP = 0","t":0.055,"v":13},{"s":"DAMP = 0","t":0.056,"v":11},{"s":"DAMP = 0","t":0.057,"v":10},{"s":"DAMP = 0","t":0.058,"v":8},{"s":"DAMP = 0","t":0.059,"v":7},{"s":"DAMP = 0","t":0.06,"v":7},{"s":"DAMP = 0","t":0.061,"v":8},{"s":"DAMP = 0","t":0.062,"v":11},{"s":"DAMP = 0","t":0.063,"v":15},{"s":"DAMP = 0","t":0.064,"v":16},{"s":"DAMP = 0","t":0.065,"v":15},{"s":"DAMP = 0","t":0.066,"v":12},{"s":"DAMP = 0","t":0.067,"v":9},{"s":"DAMP = 0","t":0.068,"v":8},{"s":"DAMP = 0","t":0.07,"v":7},{"s":"DAMP = 0","t":0.072,"v":7},{"s":"DAMP = 0","t":0.074,"v":6},{"s":"DAMP = 0","t":0.076,"v":6},{"s":"DAMP = 0","t":0.078,"v":5},{"s":"DAMP = 0","t":0.08,"v":4},{"s":"DAMP = 0","t":0.082,"v":3},{"s":"DAMP = 0","t":0.084,"v":5},{"s":"DAMP = 0","t":0.086,"v":8},{"s":"DAMP = 0","t":0.087,"v":8},{"s":"DAMP = 0","t":0.088,"v":6},{"s":"DAMP = 0","t":0.09,"v":4},{"s":"DAMP = 0","t":0.092,"v":4},{"s":"DAMP = 0","t":0.094,"v":4},{"s":"DAMP = 0","t":0.096,"v":5},{"s":"DAMP = 0","t":0.098,"v":6},{"s":"DAMP = 0","t":0.1,"v":7},
{"s":"DAMP = 0.05","t":0,"v":0},{"s":"DAMP = 0.05","t":0.0005,"v":-3},{"s":"DAMP = 0.05","t":0.001,"v":-6},{"s":"DAMP = 0.05","t":0.0015,"v":-10},{"s":"DAMP = 0.05","t":0.002,"v":-15},{"s":"DAMP = 0.05","t":0.0025,"v":-20},{"s":"DAMP = 0.05","t":0.003,"v":-25},{"s":"DAMP = 0.05","t":0.0035,"v":-28},{"s":"DAMP = 0.05","t":0.004,"v":-24},{"s":"DAMP = 0.05","t":0.0045,"v":-16},{"s":"DAMP = 0.05","t":0.005,"v":-8},{"s":"DAMP = 0.05","t":0.006,"v":10},{"s":"DAMP = 0.05","t":0.007,"v":25},{"s":"DAMP = 0.05","t":0.008,"v":40},{"s":"DAMP = 0.05","t":0.009,"v":55},{"s":"DAMP = 0.05","t":0.01,"v":67},{"s":"DAMP = 0.05","t":0.011,"v":74},{"s":"DAMP = 0.05","t":0.012,"v":76},{"s":"DAMP = 0.05","t":0.013,"v":74},{"s":"DAMP = 0.05","t":0.014,"v":72},{"s":"DAMP = 0.05","t":0.015,"v":70},{"s":"DAMP = 0.05","t":0.016,"v":67},{"s":"DAMP = 0.05","t":0.017,"v":64},{"s":"DAMP = 0.05","t":0.018,"v":62},{"s":"DAMP = 0.05","t":0.019,"v":60},{"s":"DAMP = 0.05","t":0.02,"v":59},{"s":"DAMP = 0.05","t":0.021,"v":57},{"s":"DAMP = 0.05","t":0.022,"v":55},{"s":"DAMP = 0.05","t":0.023,"v":51},{"s":"DAMP = 0.05","t":0.024,"v":48},{"s":"DAMP = 0.05","t":0.025,"v":45},{"s":"DAMP = 0.05","t":0.026,"v":42},{"s":"DAMP = 0.05","t":0.027,"v":39},{"s":"DAMP = 0.05","t":0.028,"v":39},{"s":"DAMP = 0.05","t":0.029,"v":44},{"s":"DAMP = 0.05","t":0.03,"v":51},{"s":"DAMP = 0.05","t":0.031,"v":58},{"s":"DAMP = 0.05","t":0.032,"v":61},{"s":"DAMP = 0.05","t":0.033,"v":57},{"s":"DAMP = 0.05","t":0.034,"v":48},{"s":"DAMP = 0.05","t":0.035,"v":38},{"s":"DAMP = 0.05","t":0.036,"v":30},{"s":"DAMP = 0.05","t":0.037,"v":25},{"s":"DAMP = 0.05","t":0.038,"v":22},{"s":"DAMP = 0.05","t":0.039,"v":24},{"s":"DAMP = 0.05","t":0.04,"v":29},{"s":"DAMP = 0.05","t":0.041,"v":32},{"s":"DAMP = 0.05","t":0.042,"v":32},{"s":"DAMP = 0.05","t":0.043,"v":29},{"s":"DAMP = 0.05","t":0.044,"v":25},{"s":"DAMP = 0.05","t":0.045,"v":22},{"s":"DAMP = 0.05","t":0.046,"v":19},{"s":"DAMP = 0.05","t":0.047,"v":16},{"s":"DAMP = 0.05","t":0.048,"v":14},{"s":"DAMP = 0.05","t":0.049,"v":13},{"s":"DAMP = 0.05","t":0.05,"v":14},{"s":"DAMP = 0.05","t":0.051,"v":17},{"s":"DAMP = 0.05","t":0.052,"v":18},{"s":"DAMP = 0.05","t":0.053,"v":16},{"s":"DAMP = 0.05","t":0.054,"v":13},{"s":"DAMP = 0.05","t":0.055,"v":11},{"s":"DAMP = 0.05","t":0.056,"v":9},{"s":"DAMP = 0.05","t":0.057,"v":8},{"s":"DAMP = 0.05","t":0.058,"v":7},{"s":"DAMP = 0.05","t":0.059,"v":6},{"s":"DAMP = 0.05","t":0.06,"v":6},{"s":"DAMP = 0.05","t":0.061,"v":7},{"s":"DAMP = 0.05","t":0.062,"v":10},{"s":"DAMP = 0.05","t":0.063,"v":12},{"s":"DAMP = 0.05","t":0.064,"v":13},{"s":"DAMP = 0.05","t":0.065,"v":12},{"s":"DAMP = 0.05","t":0.066,"v":10},{"s":"DAMP = 0.05","t":0.067,"v":8},{"s":"DAMP = 0.05","t":0.068,"v":7},{"s":"DAMP = 0.05","t":0.07,"v":6},{"s":"DAMP = 0.05","t":0.072,"v":6},{"s":"DAMP = 0.05","t":0.074,"v":5},{"s":"DAMP = 0.05","t":0.076,"v":5},{"s":"DAMP = 0.05","t":0.078,"v":4},{"s":"DAMP = 0.05","t":0.08,"v":3.5},{"s":"DAMP = 0.05","t":0.082,"v":3},{"s":"DAMP = 0.05","t":0.084,"v":4},{"s":"DAMP = 0.05","t":0.086,"v":6},{"s":"DAMP = 0.05","t":0.087,"v":6},{"s":"DAMP = 0.05","t":0.088,"v":5},{"s":"DAMP = 0.05","t":0.09,"v":4},{"s":"DAMP = 0.05","t":0.092,"v":3},{"s":"DAMP = 0.05","t":0.094,"v":3},{"s":"DAMP = 0.05","t":0.096,"v":4},{"s":"DAMP = 0.05","t":0.098,"v":5},{"s":"DAMP = 0.05","t":0.1,"v":6},
{"s":"DAMP = 0.1","t":0,"v":0},{"s":"DAMP = 0.1","t":0.0005,"v":-3},{"s":"DAMP = 0.1","t":0.001,"v":-7},{"s":"DAMP = 0.1","t":0.0015,"v":-11},{"s":"DAMP = 0.1","t":0.002,"v":-16},{"s":"DAMP = 0.1","t":0.0025,"v":-21},{"s":"DAMP = 0.1","t":0.003,"v":-24},{"s":"DAMP = 0.1","t":0.0035,"v":-25},{"s":"DAMP = 0.1","t":0.004,"v":-22},{"s":"DAMP = 0.1","t":0.0045,"v":-16},{"s":"DAMP = 0.1","t":0.005,"v":-10},{"s":"DAMP = 0.1","t":0.006,"v":2},{"s":"DAMP = 0.1","t":0.007,"v":14},{"s":"DAMP = 0.1","t":0.008,"v":27},{"s":"DAMP = 0.1","t":0.009,"v":40},{"s":"DAMP = 0.1","t":0.01,"v":53},{"s":"DAMP = 0.1","t":0.011,"v":62},{"s":"DAMP = 0.1","t":0.0115,"v":63},{"s":"DAMP = 0.1","t":0.012,"v":61},{"s":"DAMP = 0.1","t":0.013,"v":60},{"s":"DAMP = 0.1","t":0.014,"v":63},{"s":"DAMP = 0.1","t":0.0145,"v":65},{"s":"DAMP = 0.1","t":0.015,"v":63},{"s":"DAMP = 0.1","t":0.016,"v":60},{"s":"DAMP = 0.1","t":0.017,"v":57},{"s":"DAMP = 0.1","t":0.018,"v":55},{"s":"DAMP = 0.1","t":0.019,"v":53},{"s":"DAMP = 0.1","t":0.02,"v":52},{"s":"DAMP = 0.1","t":0.021,"v":50},{"s":"DAMP = 0.1","t":0.022,"v":48},{"s":"DAMP = 0.1","t":0.023,"v":44},{"s":"DAMP = 0.1","t":0.024,"v":41},{"s":"DAMP = 0.1","t":0.025,"v":38},{"s":"DAMP = 0.1","t":0.026,"v":35},{"s":"DAMP = 0.1","t":0.027,"v":33},{"s":"DAMP = 0.1","t":0.028,"v":32},{"s":"DAMP = 0.1","t":0.029,"v":36},{"s":"DAMP = 0.1","t":0.03,"v":42},{"s":"DAMP = 0.1","t":0.031,"v":48},{"s":"DAMP = 0.1","t":0.032,"v":51},{"s":"DAMP = 0.1","t":0.033,"v":48},{"s":"DAMP = 0.1","t":0.034,"v":40},{"s":"DAMP = 0.1","t":0.035,"v":32},{"s":"DAMP = 0.1","t":0.036,"v":25},{"s":"DAMP = 0.1","t":0.037,"v":20},{"s":"DAMP = 0.1","t":0.038,"v":17},{"s":"DAMP = 0.1","t":0.039,"v":18},{"s":"DAMP = 0.1","t":0.04,"v":23},{"s":"DAMP = 0.1","t":0.041,"v":26},{"s":"DAMP = 0.1","t":0.042,"v":26},{"s":"DAMP = 0.1","t":0.043,"v":23},{"s":"DAMP = 0.1","t":0.044,"v":20},{"s":"DAMP = 0.1","t":0.045,"v":17},{"s":"DAMP = 0.1","t":0.046,"v":15},{"s":"DAMP = 0.1","t":0.047,"v":13},{"s":"DAMP = 0.1","t":0.048,"v":11},{"s":"DAMP = 0.1","t":0.049,"v":10},{"s":"DAMP = 0.1","t":0.05,"v":11},{"s":"DAMP = 0.1","t":0.051,"v":13},{"s":"DAMP = 0.1","t":0.052,"v":14},{"s":"DAMP = 0.1","t":0.053,"v":12},{"s":"DAMP = 0.1","t":0.054,"v":10},{"s":"DAMP = 0.1","t":0.055,"v":8.5},{"s":"DAMP = 0.1","t":0.056,"v":7},{"s":"DAMP = 0.1","t":0.057,"v":6},{"s":"DAMP = 0.1","t":0.058,"v":5.5},{"s":"DAMP = 0.1","t":0.059,"v":5},{"s":"DAMP = 0.1","t":0.06,"v":5},{"s":"DAMP = 0.1","t":0.061,"v":6},{"s":"DAMP = 0.1","t":0.062,"v":8},{"s":"DAMP = 0.1","t":0.063,"v":10},{"s":"DAMP = 0.1","t":0.064,"v":10.5},{"s":"DAMP = 0.1","t":0.065,"v":10},{"s":"DAMP = 0.1","t":0.066,"v":8},{"s":"DAMP = 0.1","t":0.067,"v":6},{"s":"DAMP = 0.1","t":0.068,"v":5.5},{"s":"DAMP = 0.1","t":0.07,"v":5},{"s":"DAMP = 0.1","t":0.072,"v":4.5},{"s":"DAMP = 0.1","t":0.074,"v":4.5},{"s":"DAMP = 0.1","t":0.076,"v":4},{"s":"DAMP = 0.1","t":0.078,"v":4},{"s":"DAMP = 0.1","t":0.08,"v":3},{"s":"DAMP = 0.1","t":0.082,"v":2.5},{"s":"DAMP = 0.1","t":0.084,"v":3.5},{"s":"DAMP = 0.1","t":0.086,"v":5.5},{"s":"DAMP = 0.1","t":0.087,"v":5.5},{"s":"DAMP = 0.1","t":0.088,"v":4.5},{"s":"DAMP = 0.1","t":0.09,"v":3},{"s":"DAMP = 0.1","t":0.092,"v":2.5},{"s":"DAMP = 0.1","t":0.094,"v":2.5},{"s":"DAMP = 0.1","t":0.096,"v":3},{"s":"DAMP = 0.1","t":0.098,"v":4},{"s":"DAMP = 0.1","t":0.1,"v":5},
{"s":"DAMP = 0.5","t":0,"v":0},{"s":"DAMP = 0.5","t":0.0004,"v":-8},{"s":"DAMP = 0.5","t":0.0008,"v":5},{"s":"DAMP = 0.5","t":0.0012,"v":-15},{"s":"DAMP = 0.5","t":0.0016,"v":10},{"s":"DAMP = 0.5","t":0.002,"v":-28},{"s":"DAMP = 0.5","t":0.0024,"v":15},{"s":"DAMP = 0.5","t":0.0028,"v":-20},{"s":"DAMP = 0.5","t":0.0032,"v":5},{"s":"DAMP = 0.5","t":0.0036,"v":-25},{"s":"DAMP = 0.5","t":0.004,"v":2},{"s":"DAMP = 0.5","t":0.0045,"v":-5},{"s":"DAMP = 0.5","t":0.005,"v":18},{"s":"DAMP = 0.5","t":0.0055,"v":12},{"s":"DAMP = 0.5","t":0.006,"v":35},{"s":"DAMP = 0.5","t":0.0065,"v":30},{"s":"DAMP = 0.5","t":0.007,"v":50},{"s":"DAMP = 0.5","t":0.0075,"v":48},{"s":"DAMP = 0.5","t":0.008,"v":65},{"s":"DAMP = 0.5","t":0.0085,"v":60},{"s":"DAMP = 0.5","t":0.009,"v":78},{"s":"DAMP = 0.5","t":0.0093,"v":70},{"s":"DAMP = 0.5","t":0.0096,"v":90},{"s":"DAMP = 0.5","t":0.01,"v":75},{"s":"DAMP = 0.5","t":0.0103,"v":82},{"s":"DAMP = 0.5","t":0.0106,"v":72},{"s":"DAMP = 0.5","t":0.011,"v":84},{"s":"DAMP = 0.5","t":0.0113,"v":74},{"s":"DAMP = 0.5","t":0.0116,"v":80},{"s":"DAMP = 0.5","t":0.012,"v":70},{"s":"DAMP = 0.5","t":0.0125,"v":78},{"s":"DAMP = 0.5","t":0.013,"v":72},{"s":"DAMP = 0.5","t":0.0135,"v":80},{"s":"DAMP = 0.5","t":0.014,"v":70},{"s":"DAMP = 0.5","t":0.0145,"v":78},{"s":"DAMP = 0.5","t":0.015,"v":72},{"s":"DAMP = 0.5","t":0.0155,"v":80},{"s":"DAMP = 0.5","t":0.016,"v":74},{"s":"DAMP = 0.5","t":0.0165,"v":78},{"s":"DAMP = 0.5","t":0.017,"v":70},{"s":"DAMP = 0.5","t":0.0175,"v":62},{"s":"DAMP = 0.5","t":0.018,"v":48},{"s":"DAMP = 0.5","t":0.0185,"v":38},{"s":"DAMP = 0.5","t":0.019,"v":30},{"s":"DAMP = 0.5","t":0.0195,"v":25},{"s":"DAMP = 0.5","t":0.02,"v":22},{"s":"DAMP = 0.5","t":0.021,"v":18},{"s":"DAMP = 0.5","t":0.022,"v":17},{"s":"DAMP = 0.5","t":0.023,"v":21},{"s":"DAMP = 0.5","t":0.024,"v":25},{"s":"DAMP = 0.5","t":0.025,"v":27},{"s":"DAMP = 0.5","t":0.0255,"v":29},{"s":"DAMP = 0.5","t":0.026,"v":28},{"s":"DAMP = 0.5","t":0.027,"v":24},{"s":"DAMP = 0.5","t":0.028,"v":20},{"s":"DAMP = 0.5","t":0.029,"v":15},{"s":"DAMP = 0.5","t":0.03,"v":12},{"s":"DAMP = 0.5","t":0.031,"v":9},{"s":"DAMP = 0.5","t":0.032,"v":8},{"s":"DAMP = 0.5","t":0.033,"v":7.5},{"s":"DAMP = 0.5","t":0.034,"v":7},{"s":"DAMP = 0.5","t":0.035,"v":6},{"s":"DAMP = 0.5","t":0.036,"v":4},{"s":"DAMP = 0.5","t":0.037,"v":0},{"s":"DAMP = 0.5","t":0.038,"v":-5},{"s":"DAMP = 0.5","t":0.039,"v":-8},{"s":"DAMP = 0.5","t":0.04,"v":-8},{"s":"DAMP = 0.5","t":0.041,"v":-7},{"s":"DAMP = 0.5","t":0.042,"v":-6},{"s":"DAMP = 0.5","t":0.043,"v":-6},{"s":"DAMP = 0.5","t":0.044,"v":-8},{"s":"DAMP = 0.5","t":0.045,"v":-10},{"s":"DAMP = 0.5","t":0.046,"v":-11},{"s":"DAMP = 0.5","t":0.047,"v":-12},{"s":"DAMP = 0.5","t":0.048,"v":-11},{"s":"DAMP = 0.5","t":0.049,"v":-10},{"s":"DAMP = 0.5","t":0.05,"v":-10},{"s":"DAMP = 0.5","t":0.052,"v":-10},{"s":"DAMP = 0.5","t":0.054,"v":-11},{"s":"DAMP = 0.5","t":0.056,"v":-10},{"s":"DAMP = 0.5","t":0.058,"v":-8},{"s":"DAMP = 0.5","t":0.06,"v":-7},{"s":"DAMP = 0.5","t":0.062,"v":-6},{"s":"DAMP = 0.5","t":0.064,"v":-5.5},{"s":"DAMP = 0.5","t":0.066,"v":-5},{"s":"DAMP = 0.5","t":0.068,"v":-5},{"s":"DAMP = 0.5","t":0.07,"v":-4.5},{"s":"DAMP = 0.5","t":0.072,"v":-4.5},{"s":"DAMP = 0.5","t":0.074,"v":-4},{"s":"DAMP = 0.5","t":0.076,"v":-4},{"s":"DAMP = 0.5","t":0.078,"v":-3.5},{"s":"DAMP = 0.5","t":0.08,"v":-3.5},{"s":"DAMP = 0.5","t":0.082,"v":-3},{"s":"DAMP = 0.5","t":0.084,"v":-2.5},{"s":"DAMP = 0.5","t":0.086,"v":-2.5},{"s":"DAMP = 0.5","t":0.088,"v":-3},{"s":"DAMP = 0.5","t":0.09,"v":-3.5},{"s":"DAMP = 0.5","t":0.092,"v":-4},{"s":"DAMP = 0.5","t":0.094,"v":-3.5},{"s":"DAMP = 0.5","t":0.096,"v":-3.5},{"s":"DAMP = 0.5","t":0.098,"v":-3},{"s":"DAMP = 0.5","t":0.1,"v":-3},
{"s":"DAMP = 1","t":0,"v":0},{"s":"DAMP = 1","t":0.0004,"v":8},{"s":"DAMP = 1","t":0.0008,"v":-5},{"s":"DAMP = 1","t":0.0012,"v":10},{"s":"DAMP = 1","t":0.0016,"v":-10},{"s":"DAMP = 1","t":0.002,"v":5},{"s":"DAMP = 1","t":0.0024,"v":-15},{"s":"DAMP = 1","t":0.0028,"v":8},{"s":"DAMP = 1","t":0.0032,"v":-12},{"s":"DAMP = 1","t":0.0036,"v":5},{"s":"DAMP = 1","t":0.004,"v":-8},{"s":"DAMP = 1","t":0.0045,"v":5},{"s":"DAMP = 1","t":0.005,"v":2},{"s":"DAMP = 1","t":0.0055,"v":12},{"s":"DAMP = 1","t":0.006,"v":14},{"s":"DAMP = 1","t":0.0065,"v":22},{"s":"DAMP = 1","t":0.007,"v":24},{"s":"DAMP = 1","t":0.0075,"v":32},{"s":"DAMP = 1","t":0.008,"v":34},{"s":"DAMP = 1","t":0.0085,"v":42},{"s":"DAMP = 1","t":0.009,"v":44},{"s":"DAMP = 1","t":0.0095,"v":50},{"s":"DAMP = 1","t":0.01,"v":50},{"s":"DAMP = 1","t":0.0105,"v":57},{"s":"DAMP = 1","t":0.011,"v":52},{"s":"DAMP = 1","t":0.0115,"v":56},{"s":"DAMP = 1","t":0.012,"v":48},{"s":"DAMP = 1","t":0.0125,"v":54},{"s":"DAMP = 1","t":0.013,"v":50},{"s":"DAMP = 1","t":0.0135,"v":52},{"s":"DAMP = 1","t":0.014,"v":46},{"s":"DAMP = 1","t":0.0145,"v":50},{"s":"DAMP = 1","t":0.015,"v":45},{"s":"DAMP = 1","t":0.0155,"v":52},{"s":"DAMP = 1","t":0.016,"v":48},{"s":"DAMP = 1","t":0.0165,"v":53},{"s":"DAMP = 1","t":0.017,"v":50},{"s":"DAMP = 1","t":0.0175,"v":52},{"s":"DAMP = 1","t":0.018,"v":48},{"s":"DAMP = 1","t":0.0185,"v":44},{"s":"DAMP = 1","t":0.019,"v":36},{"s":"DAMP = 1","t":0.0195,"v":30},{"s":"DAMP = 1","t":0.02,"v":24},{"s":"DAMP = 1","t":0.021,"v":18},{"s":"DAMP = 1","t":0.022,"v":14},{"s":"DAMP = 1","t":0.023,"v":14},{"s":"DAMP = 1","t":0.024,"v":16},{"s":"DAMP = 1","t":0.025,"v":18},{"s":"DAMP = 1","t":0.0255,"v":19},{"s":"DAMP = 1","t":0.026,"v":18.5},{"s":"DAMP = 1","t":0.027,"v":16},{"s":"DAMP = 1","t":0.028,"v":14},{"s":"DAMP = 1","t":0.029,"v":12},{"s":"DAMP = 1","t":0.03,"v":10},{"s":"DAMP = 1","t":0.031,"v":8},{"s":"DAMP = 1","t":0.032,"v":7},{"s":"DAMP = 1","t":0.033,"v":6.5},{"s":"DAMP = 1","t":0.034,"v":6},{"s":"DAMP = 1","t":0.035,"v":5},{"s":"DAMP = 1","t":0.036,"v":3},{"s":"DAMP = 1","t":0.037,"v":-1},{"s":"DAMP = 1","t":0.038,"v":-4},{"s":"DAMP = 1","t":0.039,"v":-5},{"s":"DAMP = 1","t":0.04,"v":-4.5},{"s":"DAMP = 1","t":0.041,"v":-4},{"s":"DAMP = 1","t":0.042,"v":-3},{"s":"DAMP = 1","t":0.043,"v":-3.5},{"s":"DAMP = 1","t":0.044,"v":-5},{"s":"DAMP = 1","t":0.045,"v":-6.5},{"s":"DAMP = 1","t":0.046,"v":-7.5},{"s":"DAMP = 1","t":0.047,"v":-8},{"s":"DAMP = 1","t":0.048,"v":-7},{"s":"DAMP = 1","t":0.05,"v":-6.5},{"s":"DAMP = 1","t":0.052,"v":-6},{"s":"DAMP = 1","t":0.054,"v":-6.5},{"s":"DAMP = 1","t":0.056,"v":-6},{"s":"DAMP = 1","t":0.058,"v":-5},{"s":"DAMP = 1","t":0.06,"v":-4.5},{"s":"DAMP = 1","t":0.062,"v":-4},{"s":"DAMP = 1","t":0.064,"v":-3.5},{"s":"DAMP = 1","t":0.066,"v":-3},{"s":"DAMP = 1","t":0.068,"v":-2.5},{"s":"DAMP = 1","t":0.07,"v":-2.5},{"s":"DAMP = 1","t":0.072,"v":-2.5},{"s":"DAMP = 1","t":0.074,"v":-2},{"s":"DAMP = 1","t":0.076,"v":-2},{"s":"DAMP = 1","t":0.078,"v":-2},{"s":"DAMP = 1","t":0.08,"v":-2.5},{"s":"DAMP = 1","t":0.082,"v":-2.5},{"s":"DAMP = 1","t":0.084,"v":-2},{"s":"DAMP = 1","t":0.086,"v":-1.5},{"s":"DAMP = 1","t":0.088,"v":-2},{"s":"DAMP = 1","t":0.09,"v":-2.5},{"s":"DAMP = 1","t":0.092,"v":-2.5},{"s":"DAMP = 1","t":0.094,"v":-2},{"s":"DAMP = 1","t":0.096,"v":-2},{"s":"DAMP = 1","t":0.098,"v":-1.5},{"s":"DAMP = 1","t":0.1,"v":-1.5},
{"s":"Experiment","t":0,"v":-3},{"s":"Experiment","t":0.001,"v":-8},{"s":"Experiment","t":0.002,"v":-16},{"s":"Experiment","t":0.003,"v":-22},{"s":"Experiment","t":0.0037,"v":-24},{"s":"Experiment","t":0.0045,"v":-22},{"s":"Experiment","t":0.005,"v":-18},{"s":"Experiment","t":0.006,"v":-6},{"s":"Experiment","t":0.007,"v":16},{"s":"Experiment","t":0.008,"v":37},{"s":"Experiment","t":0.009,"v":53},{"s":"Experiment","t":0.01,"v":63},{"s":"Experiment","t":0.011,"v":70},{"s":"Experiment","t":0.012,"v":73},{"s":"Experiment","t":0.013,"v":71},{"s":"Experiment","t":0.014,"v":65},{"s":"Experiment","t":0.015,"v":56},{"s":"Experiment","t":0.016,"v":44},{"s":"Experiment","t":0.017,"v":32},{"s":"Experiment","t":0.018,"v":21},{"s":"Experiment","t":0.019,"v":13},{"s":"Experiment","t":0.02,"v":10.5},{"s":"Experiment","t":0.021,"v":12},{"s":"Experiment","t":0.022,"v":18},{"s":"Experiment","t":0.023,"v":26},{"s":"Experiment","t":0.024,"v":33},{"s":"Experiment","t":0.025,"v":36.5},{"s":"Experiment","t":0.026,"v":37},{"s":"Experiment","t":0.027,"v":34},{"s":"Experiment","t":0.028,"v":30},{"s":"Experiment","t":0.029,"v":25},{"s":"Experiment","t":0.03,"v":21},{"s":"Experiment","t":0.031,"v":19},{"s":"Experiment","t":0.032,"v":19},{"s":"Experiment","t":0.033,"v":21},{"s":"Experiment","t":0.034,"v":25},{"s":"Experiment","t":0.035,"v":31},{"s":"Experiment","t":0.036,"v":36},{"s":"Experiment","t":0.037,"v":40},{"s":"Experiment","t":0.038,"v":42},{"s":"Experiment","t":0.039,"v":42.5},{"s":"Experiment","t":0.04,"v":40},{"s":"Experiment","t":0.041,"v":35},{"s":"Experiment","t":0.042,"v":28},{"s":"Experiment","t":0.043,"v":21},{"s":"Experiment","t":0.044,"v":14},{"s":"Experiment","t":0.045,"v":8},{"s":"Experiment","t":0.046,"v":4.5},{"s":"Experiment","t":0.047,"v":2},{"s":"Experiment","t":0.048,"v":1},{"s":"Experiment","t":0.049,"v":0.5},{"s":"Experiment","t":0.05,"v":1},{"s":"Experiment","t":0.051,"v":2.5},{"s":"Experiment","t":0.052,"v":5},{"s":"Experiment","t":0.053,"v":8},{"s":"Experiment","t":0.054,"v":10},{"s":"Experiment","t":0.055,"v":11.5},{"s":"Experiment","t":0.056,"v":12},{"s":"Experiment","t":0.057,"v":12},{"s":"Experiment","t":0.058,"v":11},{"s":"Experiment","t":0.059,"v":9},{"s":"Experiment","t":0.06,"v":6.5},{"s":"Experiment","t":0.061,"v":4},{"s":"Experiment","t":0.062,"v":2},{"s":"Experiment","t":0.063,"v":0.5},{"s":"Experiment","t":0.064,"v":-0.5},{"s":"Experiment","t":0.065,"v":-1.5},{"s":"Experiment","t":0.066,"v":-1.5},{"s":"Experiment","t":0.067,"v":-0.5},{"s":"Experiment","t":0.068,"v":2},{"s":"Experiment","t":0.069,"v":6},{"s":"Experiment","t":0.07,"v":12},{"s":"Experiment","t":0.071,"v":18},{"s":"Experiment","t":0.072,"v":23},{"s":"Experiment","t":0.073,"v":26},{"s":"Experiment","t":0.074,"v":26},{"s":"Experiment","t":0.075,"v":23},{"s":"Experiment","t":0.076,"v":18},{"s":"Experiment","t":0.077,"v":12},{"s":"Experiment","t":0.078,"v":7.5},{"s":"Experiment","t":0.079,"v":5},{"s":"Experiment","t":0.08,"v":3.5},{"s":"Experiment","t":0.081,"v":3},{"s":"Experiment","t":0.082,"v":3.5},{"s":"Experiment","t":0.083,"v":6},{"s":"Experiment","t":0.084,"v":9.5},{"s":"Experiment","t":0.085,"v":12},{"s":"Experiment","t":0.086,"v":13},{"s":"Experiment","t":0.087,"v":13},{"s":"Experiment","t":0.088,"v":11},{"s":"Experiment","t":0.089,"v":8.5},{"s":"Experiment","t":0.09,"v":6.5},{"s":"Experiment","t":0.091,"v":5.5},{"s":"Experiment","t":0.092,"v":5},{"s":"Experiment","t":0.093,"v":4.5},{"s":"Experiment","t":0.094,"v":4.5},{"s":"Experiment","t":0.095,"v":4},{"s":"Experiment","t":0.096,"v":3},{"s":"Experiment","t":0.097,"v":1.5},{"s":"Experiment","t":0.098,"v":0},{"s":"Experiment","t":0.099,"v":-1.5},{"s":"Experiment","t":0.1,"v":-2.5}
]
},
"spacing": 44,
"resolve": {"scale": {"x": "independent", "y": "independent", "color": "independent", "strokeWidth": "independent"}, "legend": {"color": "independent"}},
"hconcat": [
{
  "data": {"name": "a"},
  "width": 420, "height": 315,
  "title": {"text": "PFAC = 0.02"},
  "layer": [
    {
      "mark": {"type": "line", "opacity": 0},
      "encoding": {
        "x": {"field": "t", "type": "quantitative", "scale": {"domain": [0, 0.1], "nice": false, "zero": false},
              "axis": {"orient": "top", "values": [0.005,0.01,0.015,0.025,0.03,0.035,0.045,0.05,0.055,0.065,0.07,0.075,0.085,0.09,0.095], "grid": true, "gridDash": [2, 3], "gridColor": "#d2d2d2", "labels": false, "ticks": false, "domain": false, "title": null}},
        "y": {"field": "v", "type": "quantitative", "scale": {"domain": [-100, 300], "nice": false, "zero": false},
              "axis": {"orient": "right", "values": [-80,-60,-40,-20,20,40,60,80,120,140,160,180,220,240,260,280], "grid": true, "gridDash": [2, 3], "gridColor": "#d2d2d2", "labels": false, "ticks": false, "domain": false, "title": null}}
      }
    },
    {
      "mark": {"type": "line", "clip": true, "strokeJoin": "round"},
      "encoding": {
        "x": {"field": "t", "type": "quantitative", "axis": {"orient": "bottom", "values": [0,0.02,0.04,0.06,0.08,0.1], "labelExpr": "'' + datum.value", "title": ["Time (s)", "(a)"], "titleLineHeight": 40, "grid": true}},
        "y": {"field": "v", "type": "quantitative", "axis": {"orient": "left", "values": [-100,0,100,200,300], "labelExpr": "'' + datum.value", "title": "Strain (μm/m)", "grid": true}},
        "color": {"field": "s", "type": "nominal", "scale": {"domain": ["DAMP = 0","DAMP = 0.05","DAMP = 0.1","DAMP = 0.5","DAMP = 1","Experiment"], "range": ["#22e022","#e02424","#3d9fe0","#1414c8","#e630e6","#000000"]}, "legend": {}},
        "strokeWidth": {"field": "s", "type": "nominal", "scale": {"type": "ordinal", "domain": ["DAMP = 0","DAMP = 0.05","DAMP = 0.1","DAMP = 0.5","DAMP = 1","Experiment"], "range": [2, 1.2, 1.8, 1.2, 1.2, 2]}, "legend": null}
      }
    }
  ],
  "resolve": {"axis": {"x": "independent", "y": "independent"}}
},
{
  "data": {"name": "b"},
  "width": 425, "height": 315,
  "title": {"text": "PFAC = 0.02"},
  "layer": [
    {
      "mark": {"type": "line", "opacity": 0},
      "encoding": {
        "x": {"field": "t", "type": "quantitative", "scale": {"domain": [0, 0.1], "nice": false, "zero": false},
              "axis": {"orient": "top", "values": [0.005,0.01,0.015,0.025,0.03,0.035,0.045,0.05,0.055,0.065,0.07,0.075,0.085,0.09,0.095], "grid": true, "gridDash": [2, 3], "gridColor": "#d2d2d2", "labels": false, "ticks": false, "domain": false, "title": null}},
        "y": {"field": "v", "type": "quantitative", "scale": {"domain": [-50, 150], "nice": false, "zero": false},
              "axis": {"orient": "right", "values": [-40,-30,-20,-10,10,20,30,40,60,70,80,90,110,120,130,140], "grid": true, "gridDash": [2, 3], "gridColor": "#d2d2d2", "labels": false, "ticks": false, "domain": false, "title": null}}
      }
    },
    {
      "mark": {"type": "line", "clip": true, "strokeJoin": "round"},
      "encoding": {
        "x": {"field": "t", "type": "quantitative", "axis": {"orient": "bottom", "values": [0,0.02,0.04,0.06,0.08,0.1], "labelExpr": "'' + datum.value", "title": ["Time (s)", "(b)"], "titleLineHeight": 40, "grid": true}},
        "y": {"field": "v", "type": "quantitative", "axis": {"orient": "left", "values": [-50,0,50,100,150], "labelExpr": "'' + datum.value", "title": "Strain (μm/m)", "grid": true}},
        "color": {"field": "s", "type": "nominal", "scale": {"domain": ["DAMP = 0","DAMP = 0.05","DAMP = 0.1","DAMP = 0.5","DAMP = 1","Experiment"], "range": ["#22e022","#e02424","#3d9fe0","#1414c8","#e630e6","#000000"]}, "legend": {}},
        "strokeWidth": {"field": "s", "type": "nominal", "scale": {"type": "ordinal", "domain": ["DAMP = 0","DAMP = 0.05","DAMP = 0.1","DAMP = 0.5","DAMP = 1","Experiment"], "range": [3, 1.2, 1.8, 1.2, 1.2, 2]}, "legend": null}
      }
    }
  ],
  "resolve": {"axis": {"x": "independent", "y": "independent"}}
}
]
}
